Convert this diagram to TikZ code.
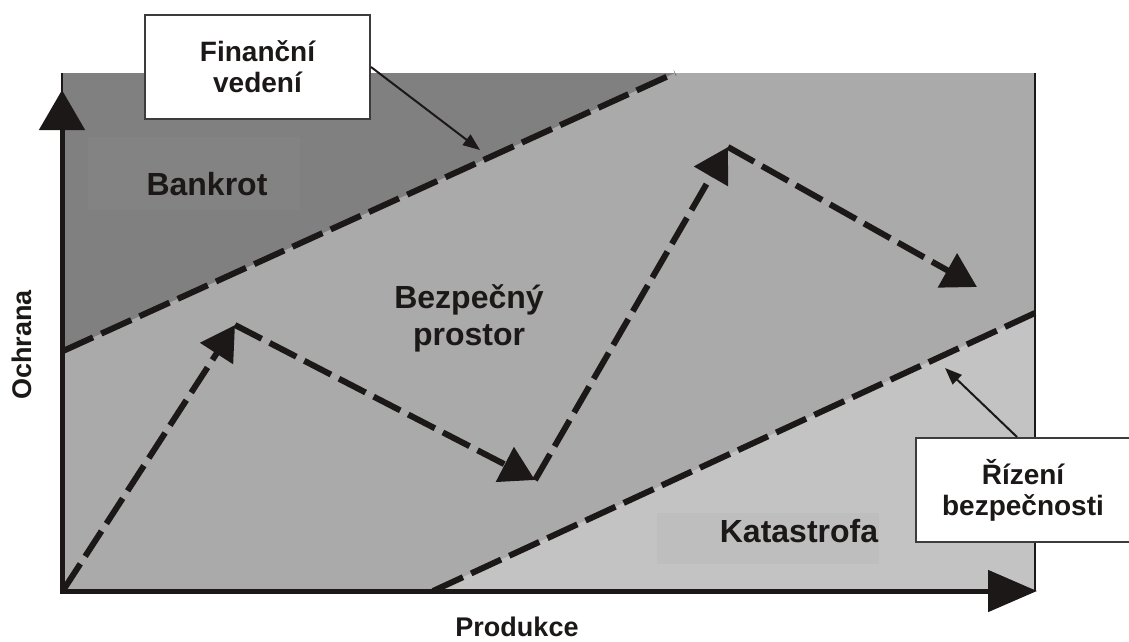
\documentclass[tikz,border=0pt]{standalone}
\usepackage{fontspec}
\setmainfont{Liberation Sans}
\usetikzlibrary{arrows.meta}
\definecolor{darkzone}{RGB}{128,128,128}
\definecolor{darkzonebg}{RGB}{131,131,131}
\definecolor{midzone}{RGB}{170,170,170}
\definecolor{lightzone}{RGB}{195,195,195}
\definecolor{lightzonebg}{RGB}{190,190,190}
\definecolor{inkc}{RGB}{28,24,24}
\begin{document}
\begin{tikzpicture}[x=1pt,y=-1pt,
  zonelabel/.style={font=\fontsize{32}{37}\selectfont\bfseries, align=center, text=inkc, inner sep=0pt},
  boxlabel/.style={draw=inkc!85, line width=2pt, fill=white, font=\fontsize{28}{31}\selectfont\bfseries, align=center, text=inkc, inner sep=0pt},
  axislabel/.style={font=\fontsize{27}{30}\selectfont\bfseries, text=inkc, inner sep=0pt},
  boundary/.style={draw=inkc, line width=6pt, dash pattern=on 33pt off 9pt},
  trajstep/.style={draw=inkc, line width=6pt, dash pattern=on 30pt off 9pt, -{Triangle[length=34pt,width=38pt]}},
  pointer/.style={draw=inkc, line width=2pt, -{Triangle[length=17pt,width=13pt]}},
  axisarrow/.style={draw=inkc, line width=5pt}
]
\useasboundingbox (0,0) rectangle (1129,641);
% zones
\fill[midzone] (63,73) rectangle (1035,591);
\fill[darkzone] (63,73) -- (675,73) -- (63,351) -- cycle;
\fill[lightzone] (433,591) -- (1035,313) -- (1035,591) -- cycle;
\fill[darkzonebg] (88,137) rectangle (300,210);
\fill[lightzonebg] (657,513) rectangle (879,564);
% right border of the plot
\draw[inkc, line width=2.5pt] (1035,73) -- (1035,591);
\draw[inkc, line width=2pt] (62,73) -- (62,100);
% boundary lines
\coordinate (bk1) at (63,351);
\coordinate (bk2) at (675,73);
\coordinate (ka1) at (433,591);
\coordinate (ka2) at (1035,313);
\draw[boundary] (bk1) -- (bk2);
\draw[boundary] (ka1) -- (ka2);
% axes
\coordinate (orig) at (62,591);
\coordinate (ytip) at (62,90);
\coordinate (xtip) at (1037,591);
\draw[axisarrow, -{Triangle[length=40pt,width=45pt]}] ([yshift=2.5pt]orig) -- (ytip);
\draw[axisarrow, -{Triangle[length=49pt,width=41pt]}] ([xshift=-2.5pt]orig) -- (xtip);
% trajectory
\coordinate (p0) at (64,589);
\coordinate (p1) at (235,325);
\coordinate (p2) at (535,480);
\coordinate (p3) at (728,147);
\coordinate (p4) at (977,287);
\draw[trajstep] (p0) -- (p1);
\draw[trajstep] (p1) -- (p2);
\draw[trajstep] (p2) -- (p3);
\draw[trajstep] (p3) -- (p4);
% zone labels
\node[zonelabel] (bankrot) at (207,184) {Bankrot};
\node[zonelabel] (bezpecny) at (469,318) {Bezpečný\\prostor};
\node[zonelabel] (katastrofa) at (799,531) {Katastrofa};
% axis labels
\node[axislabel, rotate=90] (ochrana) at (22,345) {Ochrana};
\node[axislabel] (produkce) at (517,627) {Produkce};
% boxes
\node[boxlabel, minimum width=225pt, minimum height=104pt] (finbox) at (257.5,67) {Finanční\\vedení};
\node[boxlabel, minimum width=214pt, minimum height=104pt] (rizbox) at (1023,490) {Řízení\\bezpečnosti};
\coordinate (fintip) at (480,150);
\coordinate (riztip) at (945,368);
\draw[pointer] (finbox.east) -- (fintip);
\draw[pointer] ([xshift=-6pt]rizbox.north) -- (riztip);
\end{tikzpicture}
\end{document}
